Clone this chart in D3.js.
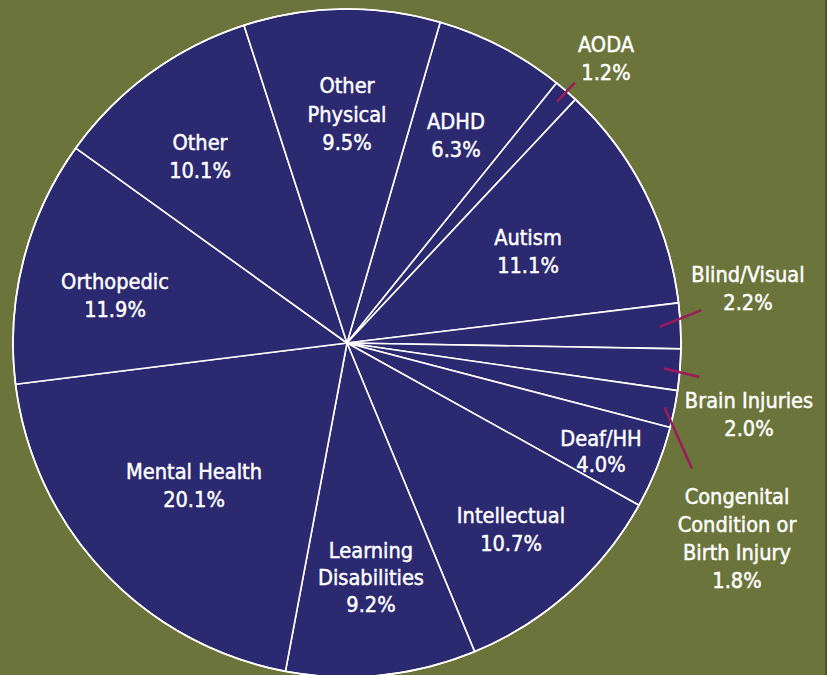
<!DOCTYPE html>
<html>
<head>
<meta charset="utf-8">
<script src="https://cdn.jsdelivr.net/npm/d3@7"></script>
<style>
  html, body { margin: 0; padding: 0; background: #6b753b; }
  svg { display: block; }
  text { font-family: "DejaVu Sans Condensed", "DejaVu Sans", sans-serif; font-stretch: condensed; font-size: 21.6px; fill: #ffffff; stroke: #ffffff; stroke-width: 0.45px; }
</style>
</head>
<body>
<svg id="chart" width="827" height="675"></svg>
<script>
// ---- data ----
const categories = [
  "ADHD", "AODA", "Autism", "Blind/Visual", "Brain Injuries",
  "Congenital\nCondition or\nBirth Injury", "Deaf/HH", "Intellectual",
  "Learning\nDisabilities", "Mental Health", "Orthopedic", "Other", "Other\nPhysical"
];
const values = [6.3, 1.2, 11.1, 2.2, 2.0, 1.8, 4.0, 10.7, 9.2, 20.1, 11.9, 10.1, 9.5];
const calloutCategories = ["AODA", "Blind/Visual", "Brain Injuries", "Congenital\nCondition or\nBirth Injury"];

// ---- layout (positions only) ----
const W = 827, H = 675;
const cx = 347, cy = 343, R = 334;
const startDeg = 16.2;
const lineH = 28;
const labelAnchor = {
  "ADHD": [456, 128],
  "AODA": [606, 51],
  "Autism": [528, 244],
  "Blind/Visual": [748, 281],
  "Brain Injuries": [749, 407],
  "Congenital\nCondition or\nBirth Injury": [737, 503],
  "Deaf/HH": [601, 445],
  "Intellectual": [511, 522],
  "Learning\nDisabilities": [371, 557],
  "Mental Health": [194, 478],
  "Orthopedic": [115, 288],
  "Other": [200, 149],
  "Other\nPhysical": [347, 92]
};
const lineHeights = { "Learning\nDisabilities": 27, "Other\nPhysical": 28.5 , "Deaf/HH": 26};
// leader: start radius, end angle (deg, clockwise from top), end radius
const leaderGeom = {
  "AODA": [320, 41.2, 346],
  "Blind/Visual": [313, 84.7, 356],
  "Brain Injuries": [318, 95.5, 354],
  "Congenital\nCondition or\nBirth Injury": [324, 110, 367]
};

const svg = d3.select("#chart");
svg.append("rect").attr("width", W).attr("height", H).attr("fill", "#6b753b");
svg.append("rect").attr("x", W - 2).attr("width", 2).attr("height", H).attr("fill", "#4b5327");

const data = categories.map((c, i) => ({ name: c, value: values[i] }));
const toRad = d => d * Math.PI / 180;
const pie = d3.pie().value(d => d.value).sort(null)
  .startAngle(toRad(startDeg)).endAngle(toRad(startDeg) + 2 * Math.PI);
const arcs = pie(data);
const arc = d3.arc().innerRadius(0).outerRadius(R);

const g = svg.append("g").attr("transform", `translate(${cx},${cy})`);
g.selectAll("path.slice").data(arcs).join("path")
  .attr("class", "slice")
  .attr("d", arc)
  .attr("fill", "#2b296f")
  .attr("stroke", "#ffffff")
  .attr("stroke-width", 1.6)
  .attr("stroke-linejoin", "round");

// outer white rim
g.append("circle").attr("r", R).attr("fill", "none").attr("stroke", "#ffffff").attr("stroke-width", 1.6);

// leader lines
const polar = (deg, r) => [r * Math.sin(toRad(deg)), -r * Math.cos(toRad(deg))];
const leaders = arcs.filter(a => calloutCategories.includes(a.data.name));
g.selectAll("line.leader").data(leaders).join("line")
  .attr("class", "leader")
  .each(function (a) {
    const geo = leaderGeom[a.data.name];
    const mid = ((a.startAngle + a.endAngle) / 2) * 180 / Math.PI;
    const p0 = polar(mid, geo[0]);
    const p1 = polar(geo[1], geo[2]);
    d3.select(this).attr("x1", p0[0]).attr("y1", p0[1]).attr("x2", p1[0]).attr("y2", p1[1]);
  })
  .attr("stroke", "#9c1c5b")
  .attr("stroke-width", 2.6)
  .attr("stroke-linecap", "butt");

// labels
const fmt = d3.format(".1f");
const labels = svg.selectAll("text.lbl").data(arcs).join("text")
  .attr("class", "lbl")
  .attr("text-anchor", "middle");
labels.each(function (a) {
  const t = d3.select(this);
  const [x, y] = labelAnchor[a.data.name];
  const lh = lineHeights[a.data.name] || lineH;
  const lines = a.data.name.split("\n").concat([fmt(a.data.value) + "%"]);
  lines.forEach((ln, i) => {
    t.append("tspan").attr("x", x).attr("y", y + 1 + i * lh).text(ln);
  });
});
</script>
</body>
</html>
